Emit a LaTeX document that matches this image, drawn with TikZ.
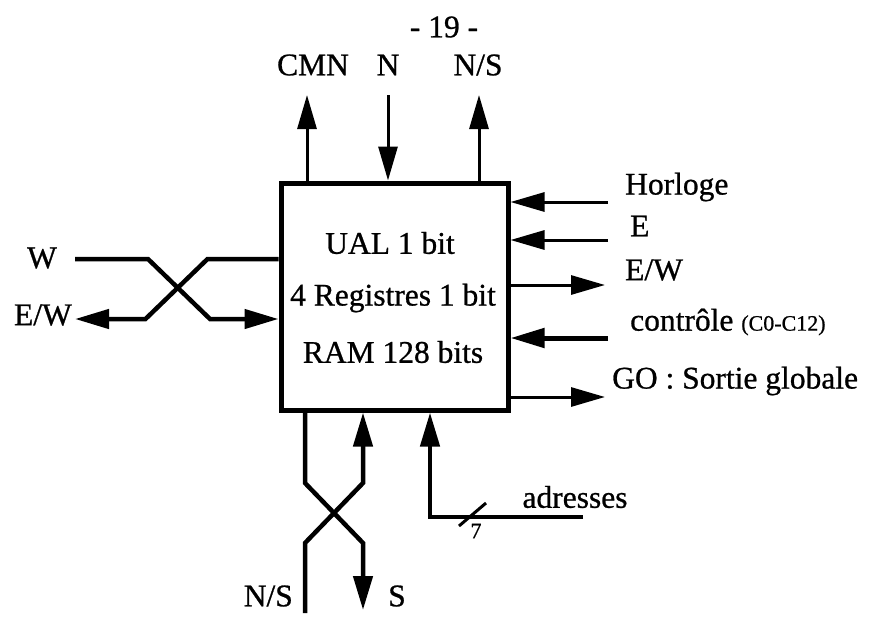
\documentclass[tikz,border=0pt]{standalone}
\usepackage{fontspec}
\setmainfont[FakeBold=0.8]{Liberation Serif}
\usetikzlibrary{arrows.meta}
\begin{document}
\begin{tikzpicture}[x=1pt,y=-1pt,
  lbl/.style={font=\fontsize{31.5}{34}\selectfont, inner sep=0pt},
  wire/.style={line width=3pt},
  wirebold/.style={line width=4.5pt},
  tip/.style={-{Triangle[length=34pt,width=19pt]}}]
\useasboundingbox (0,0) rectangle (869,619);
% main box
\node[draw, line width=5pt, minimum width=227pt, minimum height=227pt, inner sep=0pt] (box) at (394.5,296.5) {};
\node[lbl] (ual) at (390,243) {UAL 1 bit};
\node[lbl] (reg) at (393,298) {4 Registres 1 bit};
\node[lbl] (ram) at (393,352) {RAM 128 bits};
% page number
\node[lbl] (page) at (444,27) {- 19 -};
% top
\node[lbl] (tcmn) at (313,65) {CMN};
\node[lbl] (tn) at (388,65) {N};
\node[lbl] (tns) at (478,65) {N/S};
\coordinate (cmn) at (307,95);
\coordinate (n) at (388,95);
\coordinate (nsu) at (479,95);
\draw[wire,tip] (box.north -| cmn) -- (cmn);
\draw[wire,tip] (n) -- (box.north -| n);
\draw[wire,tip] (box.north -| nsu) -- (nsu);
% right
\coordinate (hor) at (608,202);
\coordinate (e) at (608,240);
\coordinate (ewr) at (605,285);
\coordinate (ctl) at (608,338);
\coordinate (go) at (605,397);
\draw[wire,tip] (hor) -- (box.east |- hor);
\draw[wire,tip] (e) -- (box.east |- e);
\draw[wire,tip] (box.east |- ewr) -- (ewr);
\draw[line width=5pt,tip] (ctl) -- (box.east |- ctl);
\draw[wire,tip] (box.east |- go) -- (go);
\node[lbl,anchor=west] (thor) at (625,187) {Horloge};
\node[lbl,anchor=west] (te) at (630,226) {E};
\node[lbl,anchor=west] (tewr) at (625,270) {E/W};
\node[lbl,anchor=west] (tctl) at (630,322) {contrôle {\fontsize{22}{24}\selectfont (C0-C12)}};
\node[lbl,anchor=west] (tgo) at (612,381) {GO : Sortie globale};
% left crossing
\coordinate (w) at (75,259);
\coordinate (ewl) at (75,319);
\node[lbl] (tw) at (42,258) {W};
\node[lbl,anchor=east] (tewl) at (72,315) {E/W};
\draw[wirebold,tip] (w) -- ++(73,0) -- ++(62,60) -- (box.west |- ewl);
\draw[wirebold,tip] (box.west |- w) -- ++(-71,0) -- ++(-62,60) -- (ewl);
% bottom crossing
\coordinate (nsb) at (305,613);
\coordinate (s) at (363,610);
\draw[wirebold,tip] (box.south -| nsb) -- (305,483) -- (363,543) -- (s);
\draw[wirebold,tip] (nsb) -- (305,543) -- (363,483) -- (box.south -| s);
\node[lbl,anchor=east] (tnsb) at (293,596) {N/S};
\node[lbl] (ts) at (397,596) {S};
% adresses
\coordinate (adr) at (583,517);
\coordinate (adrc) at (430,517);
\draw[wirebold,tip] (adr) -- (adrc) -- (box.south -| adrc);
\draw[wire] (459,526) -- (486,503);
\node[lbl] (tadr) at (575,497) {adresses};
\node[lbl,font=\fontsize{22}{24}\selectfont] (t7) at (476,531) {7};
\end{tikzpicture}
\end{document}
